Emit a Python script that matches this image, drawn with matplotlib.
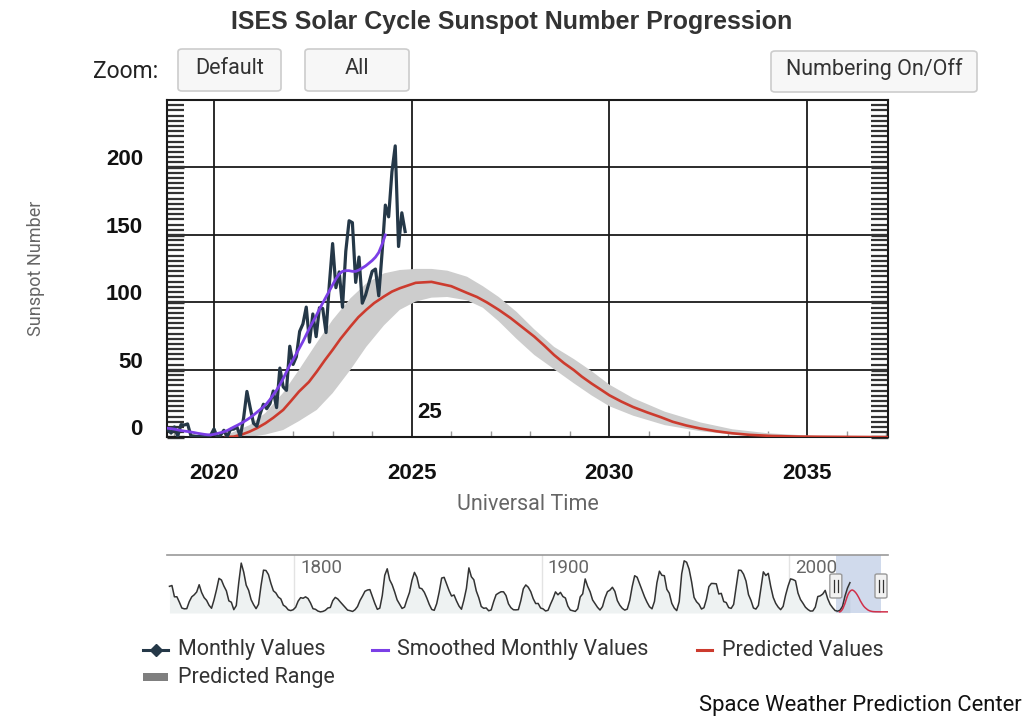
import numpy as np
import matplotlib
matplotlib.use("Agg")
import matplotlib.pyplot as plt
from matplotlib.patches import FancyBboxPatch, Rectangle
from matplotlib.lines import Line2D
from matplotlib.ticker import FixedLocator, MultipleLocator
from matplotlib.transforms import ScaledTranslation

# ---------------- data ----------------
# Monthly values (Oct 2018 .. Nov 2024)
monthly_start_year = 2018
monthly_start_month = 10
monthly_values = [
    4.9, 5.9, 3.1,
    7.7, 0.8, 9.4, 9.1, 9.9, 1.2, 0.9, 0.5, 1.1, 0.4, 0.5, 1.5,
    6.2, 0.2, 1.5, 5.2, 0.2, 5.8, 6.1, 7.5, 0.6, 14.4, 34.0, 21.8,
    10.4, 8.2, 17.2, 24.5, 21.2, 25.0, 34.3, 22.0, 51.3, 37.4, 34.8, 67.5,
    54.0, 59.7, 78.5, 84.1, 96.5, 70.5, 91.4, 74.6, 96.0, 95.5, 77.6, 113.1,
    143.6, 110.9, 122.6, 96.4, 137.9, 160.5, 159.1, 114.8, 133.6, 99.4, 105.4, 114.2,
    123.0, 124.7, 104.9, 136.5, 172.1, 163.4, 196.8, 216.0, 141.4, 166.4, 152.5,
]
# Smoothed monthly values (Oct 2018 .. May 2024)
smoothed_values = [
    7.0, 6.7, 6.4,
    6.0, 5.5, 5.0, 4.6, 4.3, 3.9, 3.5, 3.0, 2.6, 2.2, 1.9, 1.8,
    2.2, 2.8, 3.4, 4.1, 5.0, 6.3, 7.6, 8.8, 10.1, 11.5, 13.0, 14.6,
    16.5, 18.5, 20.5, 22.5, 25.0, 28.0, 31.5, 35.0, 39.0, 43.5, 48.5, 53.5,
    57.5, 62.0, 66.5, 71.0, 76.0, 81.0, 85.5, 90.0, 95.0, 99.5, 104.0, 108.5,
    113.0, 117.5, 121.0, 123.0, 123.5, 123.5, 123.0, 123.0, 124.0, 125.5, 127.0, 129.0,
    131.0, 133.5, 137.0, 143.0, 150.0,
]
# Predicted values
pred_years = [2020.3, 2020.5, 2020.7, 2020.9, 2021.1, 2021.3, 2021.5, 2021.75, 2021.95,
              2022.15, 2022.4, 2022.6, 2022.8, 2023.0, 2023.2, 2023.45, 2023.65, 2023.85,
              2024.05, 2024.3, 2024.5, 2024.7, 2025.1, 2025.5, 2026.0, 2026.4, 2026.65,
              2026.9, 2027.2, 2027.5, 2027.8, 2028.1, 2028.35, 2028.6, 2028.85, 2029.1,
              2029.3, 2029.55, 2029.8, 2030.0, 2030.3, 2030.6, 2030.95, 2031.3, 2031.6,
              2031.95, 2032.3, 2032.7, 2033.1, 2033.55, 2034.1, 2034.8, 2037.0, 2040.0]
pred_values = [0.2, 0.5, 2.0, 4.2, 7.0, 10.4, 14.5, 20.3, 27.0,
               33.9, 41.0, 48.7, 57.0, 64.8, 73.0, 82.1, 89.0, 94.5,
               99.5, 104.4, 108.0, 110.5, 114.5, 115.2, 112.0, 107.0, 104.0,
               100.0, 94.5, 88.4, 81.5, 74.6, 68.0, 61.0, 55.0, 49.8,
               45.0, 39.8, 35.0, 31.1, 26.5, 22.4, 18.5, 14.9, 11.5,
               8.7, 6.5, 4.5, 3.0, 1.8, 1.0, 0.5, 0.1, 0.0]
# Predicted range
range_years = [2020.3, 2020.9, 2021.3, 2021.75, 2022.15, 2022.6, 2023.0, 2023.45,
               2023.85, 2024.3, 2024.7, 2025.1, 2025.5, 2025.9, 2026.4, 2026.8,
               2027.2, 2027.65, 2028.1, 2028.6, 2029.1, 2029.55, 2030.0, 2030.6,
               2031.4, 2032.3, 2033.1, 2034.0, 2035.2, 2037.0, 2040.0]
range_upper = [1.5, 9, 18, 33, 50, 70, 87, 103,
               114, 121.5, 124, 124.8, 124.8, 123.5, 119, 112,
               104, 93, 80, 67, 58, 49, 39, 29,
               19, 11, 6, 3, 1, 0.2, 0.0]
range_lower = [0, 0.3, 2, 5.4, 12, 20.3, 32.7, 50,
               67, 83, 94.5, 100.6, 103.5, 104, 101.5, 96,
               86, 73, 61, 50.5, 40, 31, 23, 16,
               9, 4.5, 2, 0.6, 0.1, 0, 0.0]

# Yearly values for navigator (1749 .. 2024)
nav_start_year = 1749
nav_values = [
    134.7, 139.0, 79.5, 79.7, 51.2, 20.3, 16.0, 17.0, 54.0, 79.3, 90.0, 104.8,
    143.2, 102.0, 75.2, 60.7, 34.8, 19.0, 63.0, 116.3, 176.8, 168.0, 136.0, 110.8,
    58.0, 51.0, 11.7, 33.0, 154.2, 257.3, 209.8, 141.3, 113.5, 64.2, 38.0, 17.0,
    40.2, 138.2, 220.0, 218.2, 196.8, 149.8, 111.0, 100.0, 78.2, 68.3, 35.5, 26.7,
    10.7, 6.8, 11.3, 24.2, 56.7, 75.0, 71.8, 79.2, 70.3, 46.8, 16.8, 13.5,
    4.2, 0.0, 2.3, 8.3, 20.3, 23.2, 59.0, 76.3, 68.3, 52.9, 38.5, 24.2,
    9.2, 6.3, 2.2, 11.4, 28.2, 59.9, 83.0, 108.5, 115.2, 117.4, 80.8, 44.3,
    13.4, 19.5, 85.8, 192.7, 227.3, 168.7, 143.0, 105.5, 63.3, 40.3, 18.1, 25.1,
    65.8, 102.7, 166.3, 208.3, 182.5, 126.3, 122.0, 103.1, 73.0, 39.0, 12.7, 8.2,
    43.4, 104.4, 178.3, 182.2, 146.6, 112.1, 83.5, 89.2, 57.8, 30.7, 13.9, 62.8,
    123.6, 232.0, 185.3, 169.2, 110.1, 74.5, 28.3, 18.9, 20.7, 5.7, 10.0, 53.7,
    90.5, 99.0, 106.1, 105.8, 86.3, 42.4, 21.8, 11.2, 10.4, 11.8, 59.5, 121.7,
    142.0, 130.0, 106.6, 69.4, 43.8, 44.4, 20.2, 15.7, 4.6, 8.5, 40.8, 70.1,
    105.5, 90.1, 102.8, 80.9, 73.2, 30.9, 9.5, 6.0, 2.4, 16.1, 79.0, 95.0,
    173.6, 134.6, 105.7, 62.7, 43.5, 23.7, 9.7, 27.9, 74.0, 106.5, 114.7, 129.7,
    108.2, 59.4, 35.1, 18.6, 9.2, 14.6, 60.2, 132.8, 190.6, 182.6, 148.0, 113.0,
    79.2, 50.8, 27.1, 16.1, 55.3, 154.3, 214.7, 193.0, 190.7, 118.9, 98.3, 45.0,
    20.1, 6.6, 54.2, 200.7, 269.3, 261.7, 225.1, 159.0, 76.4, 53.4, 39.9, 15.0,
    22.0, 66.8, 132.9, 150.0, 149.4, 148.0, 94.4, 97.6, 54.1, 49.2, 22.5, 18.4,
    39.3, 131.0, 220.1, 218.9, 198.9, 162.4, 91.0, 60.5, 20.6, 14.8, 33.9, 123.0,
    211.1, 191.8, 203.3, 133.0, 76.1, 44.9, 25.1, 11.6, 28.9, 88.3, 136.3, 173.9,
    170.4, 163.6, 99.3, 65.3, 45.8, 24.7, 12.6, 4.2, 4.8, 24.9, 80.8, 84.5,
    94.0, 113.3, 69.8, 39.8, 21.7, 7.0, 3.6, 8.8, 29.6, 83.2, 125.5, 154.0,
]

x_ticks = [2020, 2025, 2030, 2035]
y_ticks = [0, 50, 100, 150, 200]
nav_ticks = [1800, 1900, 2000]

# ---------------- colours ----------------
C_MONTH = "#253848"
C_SMOOTH = "#7b3fe6"
C_PRED = "#cc3b2e"
C_RANGE = "#cdcdcd"

# ---------------- figure ----------------
W, H = 1024, 720
fig = plt.figure(figsize=(W / 100, H / 100), dpi=100)


def fx(px):
    return px / W


def fy(py):
    return 1 - py / H


# main axes
L, R, T, B = 166.5, 888.3, 100, 437.3
ax = fig.add_axes([fx(L), fy(B), fx(R) - fx(L), fy(T) - fy(B)])
XMIN, XMAX = 2018.8, 2037.05
ax.set_xlim(XMIN, XMAX)
ax.set_ylim(0, 250)

m_years = [monthly_start_year + (monthly_start_month - 1 + i) / 12 for i in range(len(monthly_values))]
s_years = [monthly_start_year + (monthly_start_month - 1 + i) / 12 for i in range(len(smoothed_values))]

ax.fill(list(range_years) + list(range_years[::-1]),
        list(range_upper) + list(range_lower[::-1]),
        color=C_RANGE, lw=0, zorder=2)
ax.plot(pred_years, pred_values, color=C_PRED, lw=1.9, zorder=3, solid_joinstyle="round")
ax.plot(m_years, monthly_values, color=C_MONTH, lw=2.3, zorder=4, solid_joinstyle="round")
ax.plot(s_years, smoothed_values, color=C_SMOOTH, lw=2.0, zorder=5, solid_joinstyle="round")

ax.text(2025.15, 14, "25", fontsize=16, fontweight="bold", family="Liberation Sans",
        ha="left", va="baseline", color="#111", zorder=6)

# grid + ticks
ax.set_xticks(x_ticks)
ax.set_yticks(y_ticks)
ax.grid(True, which="major", color="#1a1a1a", lw=1.3, zorder=1)
ax.set_axisbelow(True)
minor_y = [v for v in np.arange(0, 251, 50 / 13) if min(abs(v - t) for t in range(0, 251, 50)) > 0.5]
ax.yaxis.set_minor_locator(FixedLocator(minor_y))
ax.xaxis.set_minor_locator(MultipleLocator(1))
ax.tick_params(axis="y", which="both", direction="in", left=True, right=True,
               length=12.5, width=1.6, color="#333333")
ax.tick_params(axis="y", which="major", width=2.4, pad=17)
ax.tick_params(axis="x", which="major", length=0, pad=18.5)
ax.tick_params(axis="x", which="minor", direction="in", length=4.5, width=1.0, color="#999999")
for lab in ax.get_xticklabels() + ax.get_yticklabels():
    lab.set_fontfamily("Liberation Sans")
    lab.set_fontweight("bold")
    lab.set_fontsize(16)
    lab.set_color("#111111")
shift_up = ScaledTranslation(0, 10 / 100, fig.dpi_scale_trans)
for lab in ax.get_yticklabels():
    lab.set_transform(lab.get_transform() + shift_up)
for sp in ax.spines.values():
    sp.set_color("#1a1a1a")
    sp.set_linewidth(1.5)

ax.set_xlabel("Universal Time", fontsize=15.5, family="Roboto", color="#666666", labelpad=7)
ax.set_ylabel("Sunspot Number", fontsize=13, family="Roboto", color="#666666", labelpad=44)

# title
fig.text(fx(512), fy(22), "ISES Solar Cycle Sunspot Number Progression", ha="center", va="center",
         fontsize=18, fontweight="bold", family="Liberation Sans", color="#333333")

# buttons
fig.text(fx(93), fy(72), "Zoom:", ha="left", va="center", fontsize=16.5, family="Roboto", color="#222222")
buttons = [("Default", 178, 281, 49, 91), ("All", 305, 409, 49, 91), ("Numbering On/Off", 771, 977, 51, 92)]
for label, x0, x1, y0, y1 in buttons:
    p = FancyBboxPatch((fx(x0), fy(y1)), fx(x1) - fx(x0), fy(y0) - fy(y1),
                       boxstyle="round,pad=0,rounding_size=0.004", transform=fig.transFigure,
                       facecolor="#f7f7f7", edgecolor="#cccccc", lw=1.2)
    fig.add_artist(p)
    fig.text(fx((x0 + x1) / 2), fy((y0 + y1) / 2 - 2), label, ha="center", va="center",
             fontsize=15.5, family="Roboto", color="#333333")

# navigator
NL, NR, NT, NB = 166.5, 888.3, 555, 613
nav = fig.add_axes([fx(NL), fy(NB), fx(NR) - fx(NL), fy(NT) - fy(NB)])
NXMIN, NXMAX = 1748.3, 2040.0
nav.set_xlim(NXMIN, NXMAX)
nav.set_ylim(-6, 300)
n_years = [nav_start_year + 0.5 + i for i in range(len(nav_values))]
nav.fill_between(n_years, nav_values, -6, color="#eef2f2", lw=0, zorder=1)
nav.plot(n_years, nav_values, color="#333333", lw=1.1, zorder=3)
nav.plot(pred_years, pred_values, color="#d0304a", lw=1.1, zorder=3)
for t in nav_ticks:
    nav.axvline(t, color="#e3e3e3", lw=1, zorder=0)
    nav.text(t + 2.3, 230, str(t), fontsize=13.5, family="Roboto", color="#666666",
             ha="left", va="center", zorder=4)
nav.add_patch(Rectangle((XMIN, -6), XMAX - XMIN, 306, facecolor="#6685c2", alpha=0.3, lw=0, zorder=2))
for sp in ["left", "right", "bottom"]:
    nav.spines[sp].set_visible(False)
nav.spines["top"].set_color("#999999")
nav.spines["top"].set_linewidth(1.2)
nav.set_xticks([])
nav.set_yticks([])

# handles
for xv in [XMIN, XMAX]:
    px = NL + (xv - NXMIN) / (NXMAX - NXMIN) * (NR - NL)
    hw, hh = 12, 24
    h = FancyBboxPatch((fx(px - hw / 2), fy(586 + hh / 2)), fx(hw), hh / H,
                       boxstyle="round,pad=0,rounding_size=0.002", transform=fig.transFigure,
                       facecolor="#f2f2f2", edgecolor="#999999", lw=1.0, zorder=10)
    fig.add_artist(h)
    for dx in (-1.8, 1.8):
        fig.add_artist(Line2D([fx(px + dx), fx(px + dx)], [fy(580), fy(592)],
                              transform=fig.transFigure, color="#333333", lw=0.9, zorder=11))

# legend
row1, row2 = 650, 677
items = [(143, 168, 178, row1, C_MONTH, "Monthly Values", "line_marker"),
         (372, 388, 397, row1, C_SMOOTH, "Smoothed Monthly Values", "line"),
         (697, 712, 722, row1, C_PRED, "Predicted Values", "line"),
         (143, 168, 178, row2, "#7f7f7f", "Predicted Range", "rect")]
for x0, x1, xt, yy, col, txt, kind in items:
    if kind == "rect":
        fig.add_artist(Rectangle((fx(x0), fy(yy + 4)), fx(x1) - fx(x0), 8 / H,
                                 transform=fig.transFigure, facecolor=col, lw=0))
    else:
        fig.add_artist(Line2D([fx(x0), fx(x1)], [fy(yy), fy(yy)], transform=fig.transFigure,
                              color=col, lw=2.2))
        if kind == "line_marker":
            fig.add_artist(Line2D([fx((x0 + x1) / 2)], [fy(yy)], transform=fig.transFigure,
                                  color=col, marker="D", markersize=6.5, lw=0))
    fig.text(fx(xt), fy(yy), txt, ha="left", va="center", fontsize=15.5, family="Roboto",
             color="#333333")

fig.text(fx(1022), fy(706), "Space Weather Prediction Center", ha="right", va="center",
         fontsize=15.8, family="Roboto", color="#111111")

fig.savefig("out.png", dpi=100, facecolor="white")
